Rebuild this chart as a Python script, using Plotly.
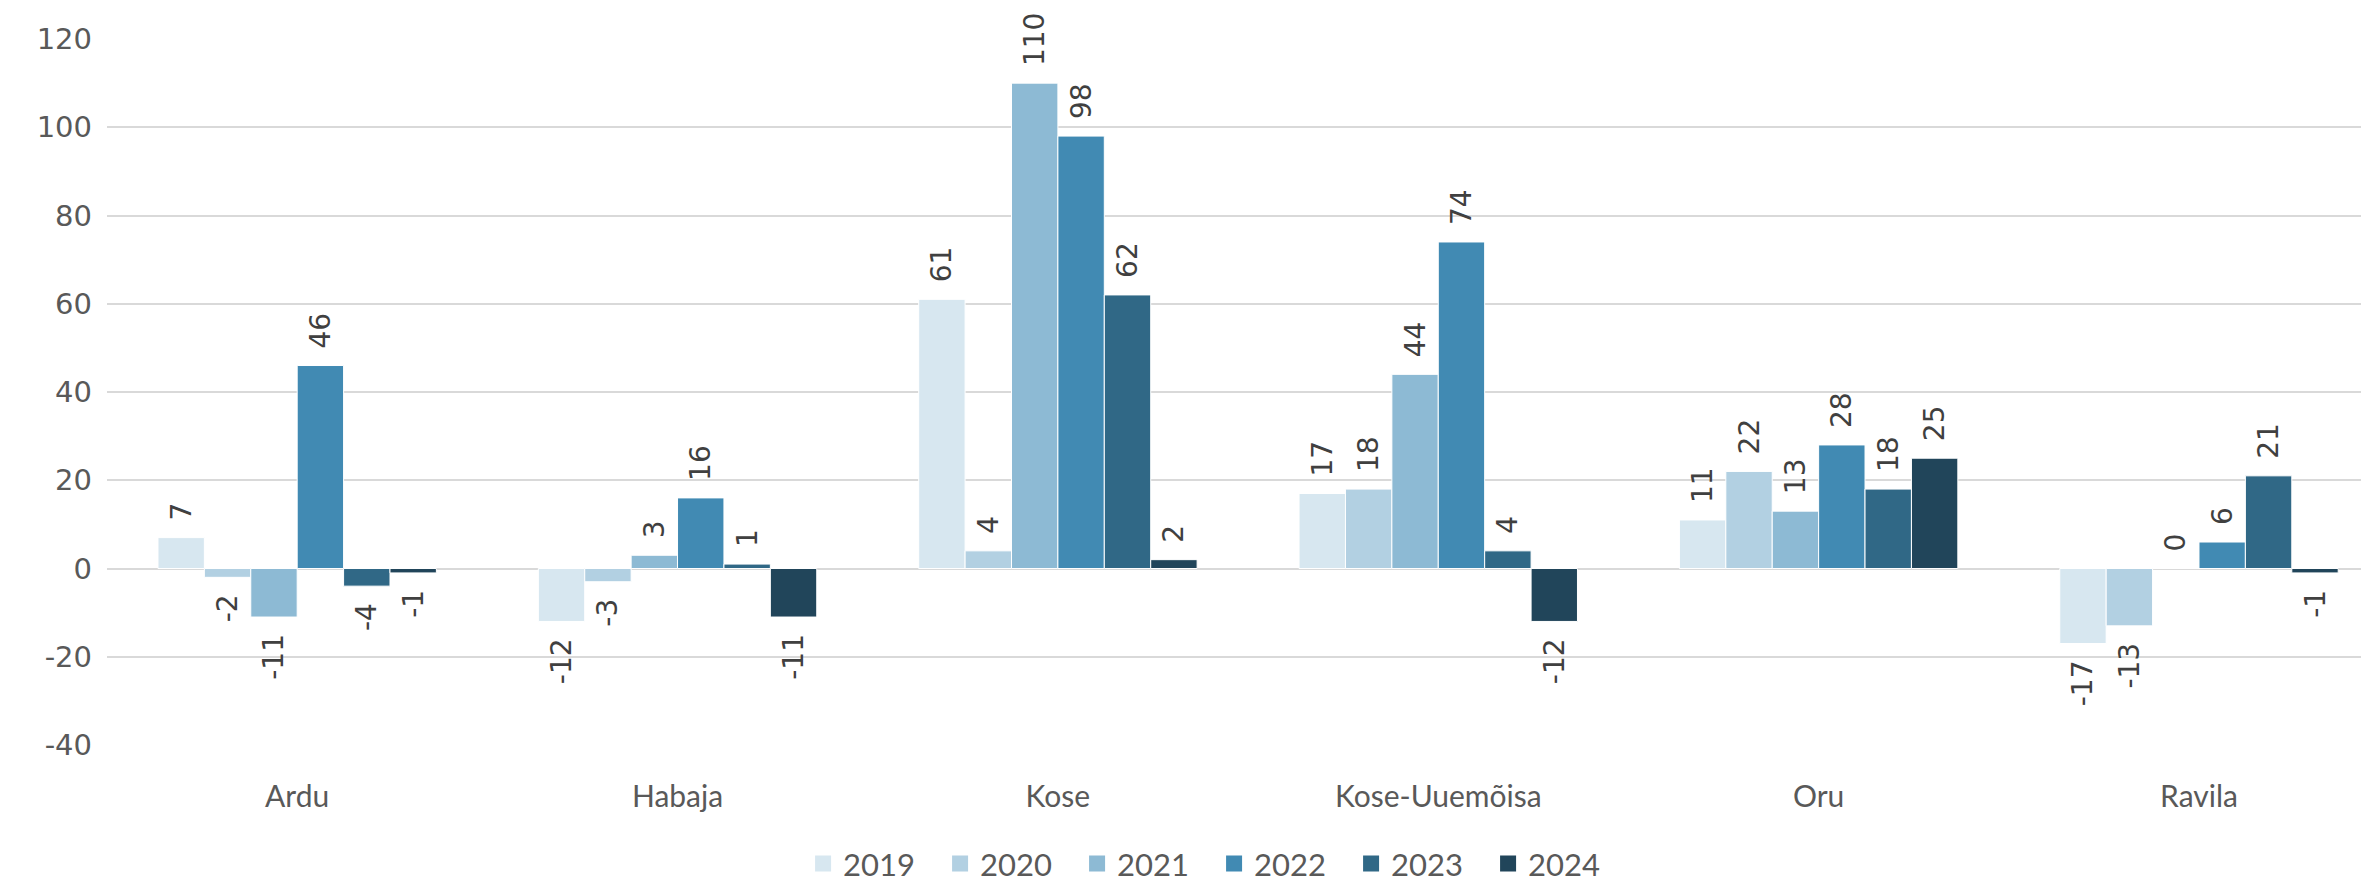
import plotly.graph_objects as go

categories = ["Ardu", "Habaja", "Kose", "Kose-Uuemõisa", "Oru", "Ravila"]
years = ["2019", "2020", "2021", "2022", "2023", "2024"]
v2019 = [7, -12, 61, 17, 11, -17]
v2020 = [-2, -3, 4, 18, 22, -13]
v2021 = [-11, 3, 110, 44, 13, 0]
v2022 = [46, 16, 98, 74, 28, 6]
v2023 = [-4, 1, 62, 4, 18, 21]
v2024 = [-1, -11, 2, -12, 25, -1]
series = [v2019, v2020, v2021, v2022, v2023, v2024]
colors = ["#D7E7F0", "#B2D0E2", "#8DBAD4", "#418AB3", "#306886", "#21455A"]
y_ticks = [-40, -20, 0, 20, 40, 60, 80, 100, 120]
y_ticktext = [str(t) for t in y_ticks]

PAD = "\u2002"


def label(v):
    # rotated text reads bottom-to-top: pad the end nearest the bar
    return PAD + str(v) if v >= 0 else str(v) + PAD


fig = go.Figure()
for name, vals, col in zip(years, series, colors):
    fig.add_trace(go.Bar(
        name=name, x=categories, y=vals, showlegend=False,
        marker=dict(color=col, line=dict(color="white", width=1)),
        text=[label(v) for v in vals],
        textposition="outside", textangle=-90,
        constraintext="none", cliponaxis=False,
        textfont=dict(family="DejaVu Sans", size=28, color="#404040"),
    ))
# legend entries with larger square swatches
for name, col in zip(years, colors):
    fig.add_trace(go.Scatter(
        name=name, x=[categories[0]], y=[None], mode="markers",
        marker=dict(symbol="square", size=19, color=col),
        hoverinfo="skip", showlegend=True,
    ))

fig.update_layout(
    width=2369, height=883,
    barmode="group", bargap=0.268, bargroupgap=0,
    plot_bgcolor="white", paper_bgcolor="white",
    margin=dict(l=99, r=0, t=31, b=137),
    font=dict(family="Lato", color="#595959"),
    xaxis=dict(
        range=[-0.5, 5.468], showgrid=False, zeroline=False,
        tickfont=dict(family="Lato", size=30, color="#595959"),
        ticks="", showline=False, ticklabelstandoff=31,
    ),
    yaxis=dict(
        range=[-40, 120], tickvals=y_ticks, ticktext=y_ticktext, showgrid=True,
        gridcolor="#D9D9D9", gridwidth=2,
        zeroline=True, zerolinecolor="#D9D9D9", zerolinewidth=2,
        tickfont=dict(family="DejaVu Sans", size=29, color="#595959"),
        ticks="", ticklabelstandoff=14,
    ),
    legend=dict(
        orientation="h", x=0.4877, xanchor="center", y=-0.13, yanchor="top",
        font=dict(family="Lato", size=31, color="#595959"),
        entrywidth=92, entrywidthmode="pixels", traceorder="normal",
    ),
    showlegend=True,
)

fig.write_html("out.html")
